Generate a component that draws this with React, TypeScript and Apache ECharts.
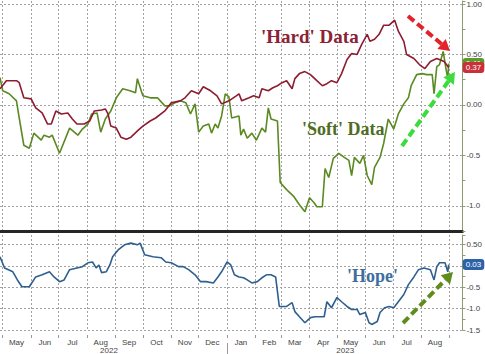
import React, { useEffect, useRef } from "react";
import * as echarts from "echarts";

const START_DATE = "2022-04-28";
const END_DATE = "2023-09-15";
const MONTH_NAMES = ["Jan", "Feb", "Mar", "Apr", "May", "Jun", "Jul", "Aug", "Sep", "Oct", "Nov", "Dec"];
const YEAR_LABEL_DATES = ["2022-08-25", "2023-05-10"];
const YEAR_DIVIDER_DATE = "2023-01-01";

const hardData: [string, number][] = [
  ["2022-04-28", 0.16], ["2022-05-05", 0.24], ["2022-05-16", 0.24], ["2022-05-19", 0.22],
  ["2022-05-24", 0.07], ["2022-06-01", 0.06], ["2022-06-06", -0.03], ["2022-06-13", -0.08],
  ["2022-06-19", -0.19], ["2022-06-23", -0.19], ["2022-06-28", -0.06], ["2022-07-04", -0.09],
  ["2022-07-11", -0.08], ["2022-07-16", -0.14], ["2022-07-21", -0.19], ["2022-07-29", -0.19],
  ["2022-08-04", -0.16], ["2022-08-09", -0.06], ["2022-08-17", -0.05], ["2022-08-21", -0.04],
  ["2022-08-24", -0.09], ["2022-08-27", -0.21], ["2022-09-02", -0.23], ["2022-09-07", -0.32],
  ["2022-09-13", -0.34], ["2022-09-18", -0.32], ["2022-09-26", -0.25], ["2022-10-01", -0.21],
  ["2022-10-09", -0.16], ["2022-10-15", -0.13], ["2022-10-25", -0.06], ["2022-11-01", 0.02],
  ["2022-11-11", 0.04], ["2022-11-16", 0.07], ["2022-11-23", 0.14], ["2022-12-01", 0.11],
  ["2022-12-06", 0.18], ["2022-12-14", 0.14], ["2022-12-21", 0.09], ["2022-12-26", 0.01],
  ["2023-01-03", 0.04], ["2023-01-11", 0.09], ["2023-01-14", 0.11], ["2023-01-17", 0.04],
  ["2023-01-25", 0.07], ["2023-01-30", 0.09], ["2023-02-05", 0.07], ["2023-02-08", 0.16],
  ["2023-02-15", 0.14], ["2023-02-20", 0.17], ["2023-02-25", 0.19], ["2023-03-02", 0.22],
  ["2023-03-07", 0.24], ["2023-03-13", 0.16], ["2023-03-16", 0.26], ["2023-03-21", 0.31],
  ["2023-03-27", 0.33], ["2023-04-02", 0.30], ["2023-04-09", 0.24], ["2023-04-15", 0.19],
  ["2023-04-20", 0.21], ["2023-04-25", 0.24], ["2023-05-01", 0.22], ["2023-05-06", 0.31],
  ["2023-05-12", 0.45], ["2023-05-17", 0.51], ["2023-05-23", 0.50], ["2023-05-28", 0.60],
  ["2023-06-03", 0.70], ["2023-06-06", 0.63], ["2023-06-11", 0.65], ["2023-06-16", 0.70],
  ["2023-06-21", 0.79], ["2023-06-27", 0.79], ["2023-07-03", 0.84], ["2023-07-07", 0.73],
  ["2023-07-13", 0.63], ["2023-07-16", 0.50], ["2023-07-24", 0.46], ["2023-07-30", 0.40],
  ["2023-08-05", 0.36], ["2023-08-11", 0.43], ["2023-08-18", 0.46], ["2023-08-26", 0.43],
  ["2023-08-31", 0.37],
];

const softData: [string, number][] = [
  ["2022-04-28", 0.27], ["2022-05-01", 0.14], ["2022-05-08", 0.11], ["2022-05-16", 0.04],
  ["2022-05-19", -0.13], ["2022-05-24", -0.40], ["2022-05-30", -0.43], ["2022-06-04", -0.28],
  ["2022-06-12", -0.35], ["2022-06-15", -0.30], ["2022-06-21", -0.32], ["2022-06-24", -0.30],
  ["2022-07-02", -0.48], ["2022-07-13", -0.23], ["2022-07-22", -0.30], ["2022-07-27", -0.24],
  ["2022-08-02", -0.19], ["2022-08-06", -0.09], ["2022-08-12", -0.08], ["2022-08-16", -0.27],
  ["2022-08-21", -0.14], ["2022-08-27", -0.06], ["2022-09-02", 0.07], ["2022-09-09", 0.16],
  ["2022-09-17", 0.14], ["2022-09-23", 0.12], ["2022-09-25", 0.26], ["2022-10-01", 0.09],
  ["2022-10-09", 0.07], ["2022-10-17", 0.07], ["2022-10-25", -0.01], ["2022-10-30", -0.01],
  ["2022-11-05", 0.02], ["2022-11-11", 0.04], ["2022-11-17", 0.02], ["2022-11-22", -0.09],
  ["2022-11-27", 0.01], ["2022-12-01", -0.27], ["2022-12-06", -0.21], ["2022-12-12", -0.19],
  ["2022-12-15", -0.28], ["2022-12-19", -0.19], ["2022-12-22", -0.23], ["2022-12-26", -0.11],
  ["2022-12-30", 0.11], ["2023-01-03", 0.08], ["2023-01-06", -0.13], ["2023-01-14", -0.11],
  ["2023-01-16", -0.30], ["2023-01-19", -0.24], ["2023-01-23", -0.33], ["2023-01-28", -0.28],
  ["2023-02-02", -0.35], ["2023-02-08", -0.23], ["2023-02-12", -0.27], ["2023-02-15", -0.03],
  ["2023-02-18", -0.14], ["2023-02-25", -0.16], ["2023-02-28", -0.77], ["2023-03-07", -0.84],
  ["2023-03-15", -0.91], ["2023-03-21", -0.99], ["2023-03-27", -1.06], ["2023-04-01", -0.92],
  ["2023-04-06", -0.97], ["2023-04-09", -1.01], ["2023-04-15", -1.01], ["2023-04-18", -0.63],
  ["2023-04-22", -0.72], ["2023-04-27", -0.53], ["2023-05-03", -0.48], ["2023-05-09", -0.52],
  ["2023-05-14", -0.55], ["2023-05-17", -0.70], ["2023-05-20", -0.52], ["2023-05-26", -0.58],
  ["2023-05-30", -0.50], ["2023-06-03", -0.70], ["2023-06-08", -0.79], ["2023-06-11", -0.62],
  ["2023-06-17", -0.52], ["2023-06-21", -0.38], ["2023-06-26", -0.14], ["2023-07-02", -0.24],
  ["2023-07-07", -0.09], ["2023-07-13", 0.01], ["2023-07-18", 0.07], ["2023-07-21", 0.19],
  ["2023-07-27", 0.30], ["2023-08-02", 0.31], ["2023-08-07", 0.30], ["2023-08-13", 0.30],
  ["2023-08-15", 0.11], ["2023-08-18", 0.38], ["2023-08-21", 0.40], ["2023-08-25", 0.53],
  ["2023-08-28", 0.36], ["2023-08-30", 0.26], ["2023-08-31", 0.41],
];

const hopeData: [string, number][] = [
  ["2022-04-28", 0.21], ["2022-05-03", -0.05], ["2022-05-12", -0.14], ["2022-05-17", -0.33],
  ["2022-05-22", -0.49], ["2022-05-30", -0.49], ["2022-06-06", -0.26], ["2022-06-13", -0.21],
  ["2022-06-21", -0.14], ["2022-06-26", -0.26], ["2022-07-02", -0.37], ["2022-07-07", -0.33],
  ["2022-07-13", -0.09], ["2022-07-21", -0.05], ["2022-07-27", -0.02], ["2022-08-02", 0.07],
  ["2022-08-07", 0.09], ["2022-08-11", -0.05], ["2022-08-14", 0.02], ["2022-08-17", -0.16],
  ["2022-08-22", -0.14], ["2022-08-26", 0.02], ["2022-08-29", 0.21], ["2022-09-04", 0.37],
  ["2022-09-11", 0.49], ["2022-09-18", 0.53], ["2022-09-25", 0.49], ["2022-09-28", 0.53],
  ["2022-10-03", 0.26], ["2022-10-12", 0.21], ["2022-10-21", 0.19], ["2022-10-26", 0.09],
  ["2022-11-01", 0.07], ["2022-11-09", -0.02], ["2022-11-14", -0.02], ["2022-11-20", -0.09],
  ["2022-11-27", -0.21], ["2022-12-03", -0.37], ["2022-12-09", -0.37], ["2022-12-17", -0.40],
  ["2022-12-22", -0.26], ["2022-12-26", -0.14], ["2023-01-01", 0.09], ["2023-01-05", 0.02],
  ["2023-01-09", -0.21], ["2023-01-14", -0.26], ["2023-01-19", -0.28], ["2023-01-23", -0.33],
  ["2023-01-28", -0.40], ["2023-02-03", -0.37], ["2023-02-08", -0.28], ["2023-02-13", -0.21],
  ["2023-02-18", -0.21], ["2023-02-23", -0.26], ["2023-02-27", -0.95], ["2023-03-07", -0.95],
  ["2023-03-13", -0.86], ["2023-03-16", -1.07], ["2023-03-21", -1.19], ["2023-03-27", -1.33],
  ["2023-04-02", -1.21], ["2023-04-07", -1.19], ["2023-04-12", -1.19], ["2023-04-17", -1.19],
  ["2023-04-20", -0.84], ["2023-04-25", -0.98], ["2023-05-01", -0.74], ["2023-05-06", -0.84],
  ["2023-05-12", -0.95], ["2023-05-17", -1.02], ["2023-05-23", -1.02], ["2023-05-26", -1.14],
  ["2023-06-01", -1.09], ["2023-06-05", -1.33], ["2023-06-08", -1.37], ["2023-06-14", -1.30],
  ["2023-06-17", -1.09], ["2023-06-22", -0.98], ["2023-06-27", -0.95], ["2023-07-02", -0.98],
  ["2023-07-07", -0.84], ["2023-07-13", -0.67], ["2023-07-18", -0.44], ["2023-07-24", -0.26],
  ["2023-07-29", -0.09], ["2023-08-04", -0.05], ["2023-08-11", -0.09], ["2023-08-15", -0.33],
  ["2023-08-18", -0.02], ["2023-08-21", 0.07], ["2023-08-27", 0.07], ["2023-08-30", -0.14],
  ["2023-08-31", 0.03],
];

function buildCategories(start: string, end: string): string[] {
  const out: string[] = [];
  const s = Date.parse(start + "T00:00:00Z");
  const e = Date.parse(end + "T00:00:00Z");
  for (let t = s; t <= e; t += 86400000) out.push(new Date(t).toISOString().slice(0, 10));
  return out;
}

const categories = buildCategories(START_DATE, END_DATE);
const catIndex = new Map(categories.map((d, i) => [d, i] as [string, number]));

function toSeries(points: [string, number][]): (number | null)[] {
  let last = 0;
  points.forEach(([d]) => { last = Math.max(last, catIndex.get(d) ?? 0); });
  const arr: (number | null)[] = new Array(last + 1).fill(null);
  points.forEach(([d, v]) => { const i = catIndex.get(d); if (i !== undefined) arr[i] = v; });
  return arr;
}

function tickLabel(v: number): string {
  if (Math.abs(v * 2 - Math.round(v * 2)) > 1e-6) return "";
  return v >= 0 ? v.toFixed(2) : v.toFixed(1);
}

function arrow(x1: number, y1: number, x2: number, y2: number, color: string) {
  const dx = x2 - x1, dy = y2 - y1;
  const L = Math.hypot(dx, dy);
  const ux = dx / L, uy = dy / L;
  const hl = 11, hw = 6.5;
  const bx = x2 - ux * hl, by = y2 - uy * hl;
  return [
    { type: "line", z: 100, shape: { x1, y1, x2: bx, y2: by }, style: { stroke: color, lineWidth: 4, lineDash: [8, 4] } },
    { type: "polygon", z: 100, shape: { points: [[x2, y2], [bx - uy * hw, by + ux * hw], [bx + uy * hw, by - ux * hw]] }, style: { fill: color } },
  ];
}

const GRID_COLOR = "#a2a2a2";
const AXIS_COLOR = "#8c9c70";
const LABEL_COLOR = "#444";
const SANS = "Liberation Sans, Arial, sans-serif";
const SERIF = "Liberation Serif, Times New Roman, serif";

export default function App() {
  const ref = useRef<HTMLDivElement>(null);
  useEffect(() => {
    if (!ref.current) return;
    const chart = echarts.init(ref.current, undefined, { renderer: "svg" });
    const isMonthStart = (_i: number, v: string) => v.endsWith("-01");
    const endLabel = (bg: string, value: number) => ({
      show: true,
      formatter: () => value.toFixed(2),
      backgroundColor: bg,
      color: "#fff",
      fontSize: 8,
      fontFamily: SANS,
      padding: [2, 3, 1, 3],
      borderRadius: 3,
      distance: 14,
    });
    const lastVal = (p: [string, number][]) => p[p.length - 1][1];
    const vGrid = { show: true, interval: isMonthStart, lineStyle: { color: GRID_COLOR, type: [2, 2], width: 1 } };
    const option: any = {
      animation: false,
      backgroundColor: "#fff",
      textStyle: { fontFamily: SANS },
      grid: [
        { left: 0, right: 20, top: 0, height: 231 },
        { left: 0, right: 20, top: 235, height: 95 },
      ],
      xAxis: [
        {
          gridIndex: 0, type: "category", data: categories, boundaryGap: false,
          axisLine: { show: true, onZero: false, lineStyle: { color: "#262626", width: 3 } },
          axisTick: { show: false }, axisLabel: { show: false },
          splitLine: vGrid,
        },
        {
          gridIndex: 1, type: "category", data: categories, boundaryGap: false, offset: 5,
          axisLine: { show: false, onZero: false },
          axisTick: { show: true, interval: isMonthStart, length: 3, lineStyle: { color: "#999" } },
          axisLabel: {
            interval: (_i: number, v: string) => v.endsWith("-16"),
            formatter: (v: string) => MONTH_NAMES[parseInt(v.slice(5, 7), 10) - 1],
            fontSize: 8, color: LABEL_COLOR, margin: 3,
          },
          splitLine: vGrid,
        },
        {
          gridIndex: 1, type: "category", data: categories, boundaryGap: false, offset: 13, position: "bottom",
          axisLine: { show: false, onZero: false },
          axisTick: { show: true, interval: (_i: number, v: string) => v === YEAR_DIVIDER_DATE, length: 12, lineStyle: { color: "#999" } },
          axisLabel: {
            interval: (_i: number, v: string) => YEAR_LABEL_DATES.includes(v),
            formatter: (v: string) => v.slice(0, 4),
            fontSize: 8, color: LABEL_COLOR, margin: 3,
          },
          splitLine: { show: false },
        },
      ],
      yAxis: [
        {
          gridIndex: 0, type: "value", position: "right", min: -1.25, max: 1.03, interval: 0.25,
          axisLine: { show: true, lineStyle: { color: AXIS_COLOR } },
          axisTick: { show: true, length: 3, lineStyle: { color: AXIS_COLOR } },
          axisLabel: { formatter: tickLabel, fontSize: 8, color: LABEL_COLOR, margin: 4 },
          splitLine: { show: true, lineStyle: { color: ["rgba(255,255,255,0)", GRID_COLOR], type: [2, 2], width: 1 } },
        },
        {
          gridIndex: 1, type: "value", position: "right", min: -1.5, max: 0.72, interval: 0.25,
          axisLine: { show: true, lineStyle: { color: AXIS_COLOR } },
          axisTick: { show: true, length: 3, lineStyle: { color: AXIS_COLOR } },
          axisLabel: { formatter: tickLabel, fontSize: 8, color: LABEL_COLOR, margin: 4 },
          splitLine: { show: true, lineStyle: { color: [GRID_COLOR, "rgba(255,255,255,0)"], type: [2, 2], width: 1 } },
        },
      ],
      series: [
        {
          name: "Soft", type: "line", xAxisIndex: 0, yAxisIndex: 0, data: toSeries(softData),
          connectNulls: true, showSymbol: false, lineStyle: { color: "#5b8a22", width: 1.6 }, itemStyle: { color: "#5b8a22" },
          endLabel: endLabel("#5e9a2a", lastVal(softData)),
        },
        {
          name: "Hard", type: "line", xAxisIndex: 0, yAxisIndex: 0, data: toSeries(hardData),
          connectNulls: true, showSymbol: false, lineStyle: { color: "#8e1c30", width: 1.6 }, itemStyle: { color: "#8e1c30" },
          endLabel: endLabel("#c9303a", lastVal(hardData)),
        },
        {
          name: "Hope", type: "line", xAxisIndex: 1, yAxisIndex: 1, data: toSeries(hopeData),
          connectNulls: true, showSymbol: false, lineStyle: { color: "#2f5f8f", width: 1.6 }, itemStyle: { color: "#2f5f8f" },
          endLabel: endLabel("#2d62a8", lastVal(hopeData)),
        },
      ],
      graphic: [
        { type: "text", z: 100, x: 261, y: 36, style: { text: "'Hard' Data", fill: "#8b2236", font: `bold 19px ${SERIF}`, verticalAlign: "middle" } },
        { type: "text", z: 100, x: 302, y: 129, style: { text: "'Soft' Data", fill: "#4f6d1f", font: `bold 18px ${SERIF}`, verticalAlign: "middle" } },
        { type: "text", z: 100, x: 347, y: 276, style: { text: "'Hope'", fill: "#3f6d9e", font: `bold 18px ${SERIF}`, verticalAlign: "middle" } },
        ...arrow(408, 16, 450, 51, "#e2232a"),
        ...arrow(402, 146, 455, 72, "#3ddc3d"),
        ...arrow(403, 323, 453, 272, "#5e8d1e"),
      ],
    };
    chart.setOption(option);
    return () => chart.dispose();
  }, []);
  return <div ref={ref} style={{ position: "fixed", left: 0, top: 0, width: 485, height: 354, background: "#fff" }} />;
}
